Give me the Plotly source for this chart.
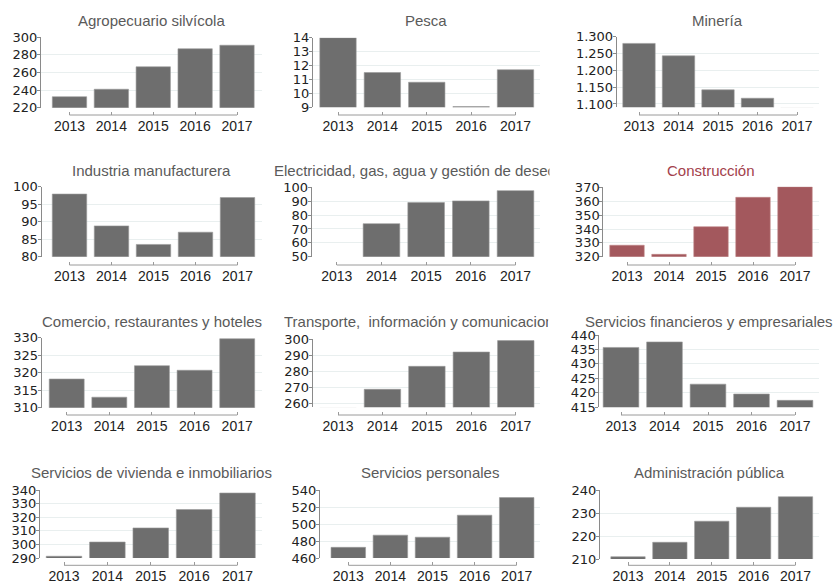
import plotly.graph_objects as go

W, H = 836, 588

years = [2013, 2014, 2015, 2016, 2017]

# Sector values by year
agropecuario = [232.5, 241.0, 266.5, 287.0, 291.0]
pesca = [14.0, 11.5, 10.8, 9.05, 11.7]
mineria = [1280, 1243, 1142, 1117, 1088]
industria = [97.9, 88.8, 83.5, 87.0, 96.9]
electricidad = [49.0, 73.8, 89.0, 90.2, 97.6]
construccion = [328.3, 321.7, 341.7, 363.0, 370.6]
comercio = [318.2, 313.0, 322.0, 320.7, 329.7]
transporte = [257.0, 268.7, 283.0, 291.9, 299.0]
financieros = [435.7, 437.6, 423.0, 419.6, 417.4]
vivienda = [291.3, 301.8, 312.2, 325.8, 338.0]
personales = [472.6, 487.0, 484.6, 510.6, 531.4]
administracion = [211.0, 217.3, 226.5, 232.6, 237.2]

# Y tick values per panel
ticks_agropecuario = [220, 240, 260, 280, 300]
ticks_pesca = [9, 10, 11, 12, 13, 14]
ticks_mineria = [1100, 1150, 1200, 1250, 1300]
ticks_industria = [80, 85, 90, 95, 100]
ticks_electricidad = [50, 60, 70, 80, 90, 100]
ticks_construccion = [320, 330, 340, 350, 360, 370]
ticks_comercio = [310, 315, 320, 325, 330]
ticks_transporte = [260, 270, 280, 290, 300]
ticks_financieros = [415, 420, 425, 430, 435, 440]
ticks_vivienda = [290, 300, 310, 320, 330, 340]
ticks_personales = [460, 480, 500, 520, 540]
ticks_administracion = [210, 220, 230, 240]

GRAY = "#6e6e6e"
RED = "#a3585d"
TITLE_GRAY = "#5a5a5a"
TITLE_RED = "#a3414b"
FONT = "Liberation Sans, Arial, sans-serif"
YFONT = "DejaVu Sans, Verdana, sans-serif"

# title, values, ticks, y-range, bar colour, title colour,
# pixel geometry: x_left, first centre, last centre, x_right, y_top, y_bottom, row
panels = [
    ("Agropecuario silvícola", agropecuario, ticks_agropecuario, [220, 300], GRAY, TITLE_GRAY,
     (41, 69.5, 237, 262, 37.3, 107.7, 0)),
    ("Pesca", pesca, ticks_pesca, [9, 14], GRAY, TITLE_GRAY,
     (313, 338, 515.5, 540, 37.7, 107.3, 0)),
    ("Minería", mineria, ticks_mineria, [1090, 1300], GRAY, TITLE_GRAY,
     (616.7, 639, 797, 819, 36.7, 107.3, 0)),
    ("Industria manufacturera", industria, ticks_industria, [80, 100], GRAY, TITLE_GRAY,
     (41.5, 69.5, 237.5, 262, 186.7, 256.7, 1)),
    ("Electricidad, gas, agua y gestión de desechos", electricidad, ticks_electricidad, [50, 100], GRAY, TITLE_GRAY,
     (311.7, 336.8, 515.5, 540, 187.3, 256.7, 1)),
    ("Construcción", construccion, ticks_construccion, [320, 370.7], RED, TITLE_RED,
     (603.3, 627, 795, 819, 186.7, 256.7, 1)),
    ("Comercio, restaurantes y hoteles", comercio, ticks_comercio, [310, 330], GRAY, TITLE_GRAY,
     (41.7, 66.7, 237.2, 262, 337.7, 407.7, 2)),
    ("Transporte,\u00a0 información y comunicaciones", transporte, ticks_transporte, [257.5, 300], GRAY, TITLE_GRAY,
     (312.7, 338, 515.8, 540, 339, 407.3, 2)),
    ("Servicios financieros y empresariales", financieros, ticks_financieros, [415, 440], GRAY, TITLE_GRAY,
     (599.3, 621, 795, 819, 335, 407.3, 2)),
    ("Servicios de vivienda e inmobiliarios", vivienda, ticks_vivienda, [290, 340], GRAY, TITLE_GRAY,
     (40, 64, 237.5, 262, 490.3, 558, 3)),
    ("Servicios personales", personales, ticks_personales, [460, 540], GRAY, TITLE_GRAY,
     (320, 348.3, 516.7, 540, 490.3, 558, 3)),
    ("Administración pública", administracion, ticks_administracion, [210, 240], GRAY, TITLE_GRAY,
     (600, 628, 795.5, 819, 490.3, 559, 3)),
]

# per-row: title centre y, x-axis line y
row_title_y = [20.7, 170.7, 321.7, 473]
row_axis_y = [115, 265, 415, 565.3]

# titles that run past their cell are clipped at the cell edge
clipped_titles = {4: (273, 548.5), 7: (283.3, 547.5)}

TITLE_SIZE = 15
YTICK_SIZE = 13
XTICK_SIZE = 14


def fmt(v):
    return f"{v:,}".replace(",", ".")


fig = go.Figure()
layout = dict(
    template="none",
    width=W, height=H,
    margin=dict(l=0, r=0, t=0, b=0, pad=0),
    paper_bgcolor="white", plot_bgcolor="white",
    showlegend=False,
    font=dict(family=FONT, color="#222"),
    shapes=[], annotations=[],
)

for i, (title, vals, yt, yr, color, tcolor, geo) in enumerate(panels):
    n = i + 1
    xl, c0, c1, xr, yt_px, yb_px, row = geo
    step = (c1 - c0) / (len(years) - 1)
    r0 = years[0] - (c0 - xl) / step
    r1 = years[-1] + (xr - c1) / step
    xa = "x" if n == 1 else f"x{n}"
    ya = "y" if n == 1 else f"y{n}"

    fig.add_trace(go.Bar(
        x=years, y=vals, width=0.82,
        marker=dict(color=color, line=dict(color="#9a9a9a" if color == GRAY else "#c08487", width=0.6)),
        xaxis=xa, yaxis=ya, hoverinfo="x+y",
    ))

    axis_pos = 1 - row_axis_y[row] / H
    layout["xaxis" if n == 1 else f"xaxis{n}"] = dict(
        domain=[xl / W, xr / W], range=[r0, r1], anchor="free", position=axis_pos,
        tickvals=years, ticktext=[str(y) for y in years],
        ticks="inside", ticklen=3, tickcolor="#9a9a9a", tickwidth=1,
        showline=False, showgrid=False, zeroline=False, automargin=False,
        tickfont=dict(size=XTICK_SIZE, color="#222"), ticklabelstandoff=1,
        fixedrange=True,
    )
    layout["yaxis" if n == 1 else f"yaxis{n}"] = dict(
        domain=[1 - yb_px / H, 1 - yt_px / H], range=yr, anchor=xa,
        tickvals=yt, ticktext=[fmt(v) for v in yt],
        ticks="outside", ticklen=3, tickcolor="#8a8a8a", tickwidth=1,
        showline=True, linecolor="#8a8a8a", linewidth=1,
        showgrid=True, gridcolor="#e9efef", gridwidth=1, zeroline=False,
        automargin=False,
        tickfont=dict(size=YTICK_SIZE, color="#222", family=YFONT), ticklabelstandoff=-3,
        fixedrange=True,
    )

    # x axis line running between the first and last category
    layout["shapes"].append(dict(
        type="line", xref=xa, yref="paper",
        x0=years[0], x1=years[-1], y0=axis_pos, y1=axis_pos,
        line=dict(color="#9a9a9a", width=1),
    ))

    ty = 1 - row_title_y[row] / H
    if i in clipped_titles:
        left, right = clipped_titles[i]
        layout["annotations"].append(dict(
            text=title, xref="paper", yref="paper", x=left / W, y=ty,
            xanchor="left", yanchor="middle", align="left", width=right - left,
            showarrow=False, borderpad=0,
            font=dict(size=TITLE_SIZE, color=tcolor, family=FONT),
        ))
    else:
        layout["annotations"].append(dict(
            text=title, xref="paper", yref="paper", x=(xl + xr) / 2 / W, y=ty,
            xanchor="center", yanchor="middle", showarrow=False,
            font=dict(size=TITLE_SIZE, color=tcolor, family=FONT),
        ))

fig.update_layout(**layout)
fig.write_html("out.html")
